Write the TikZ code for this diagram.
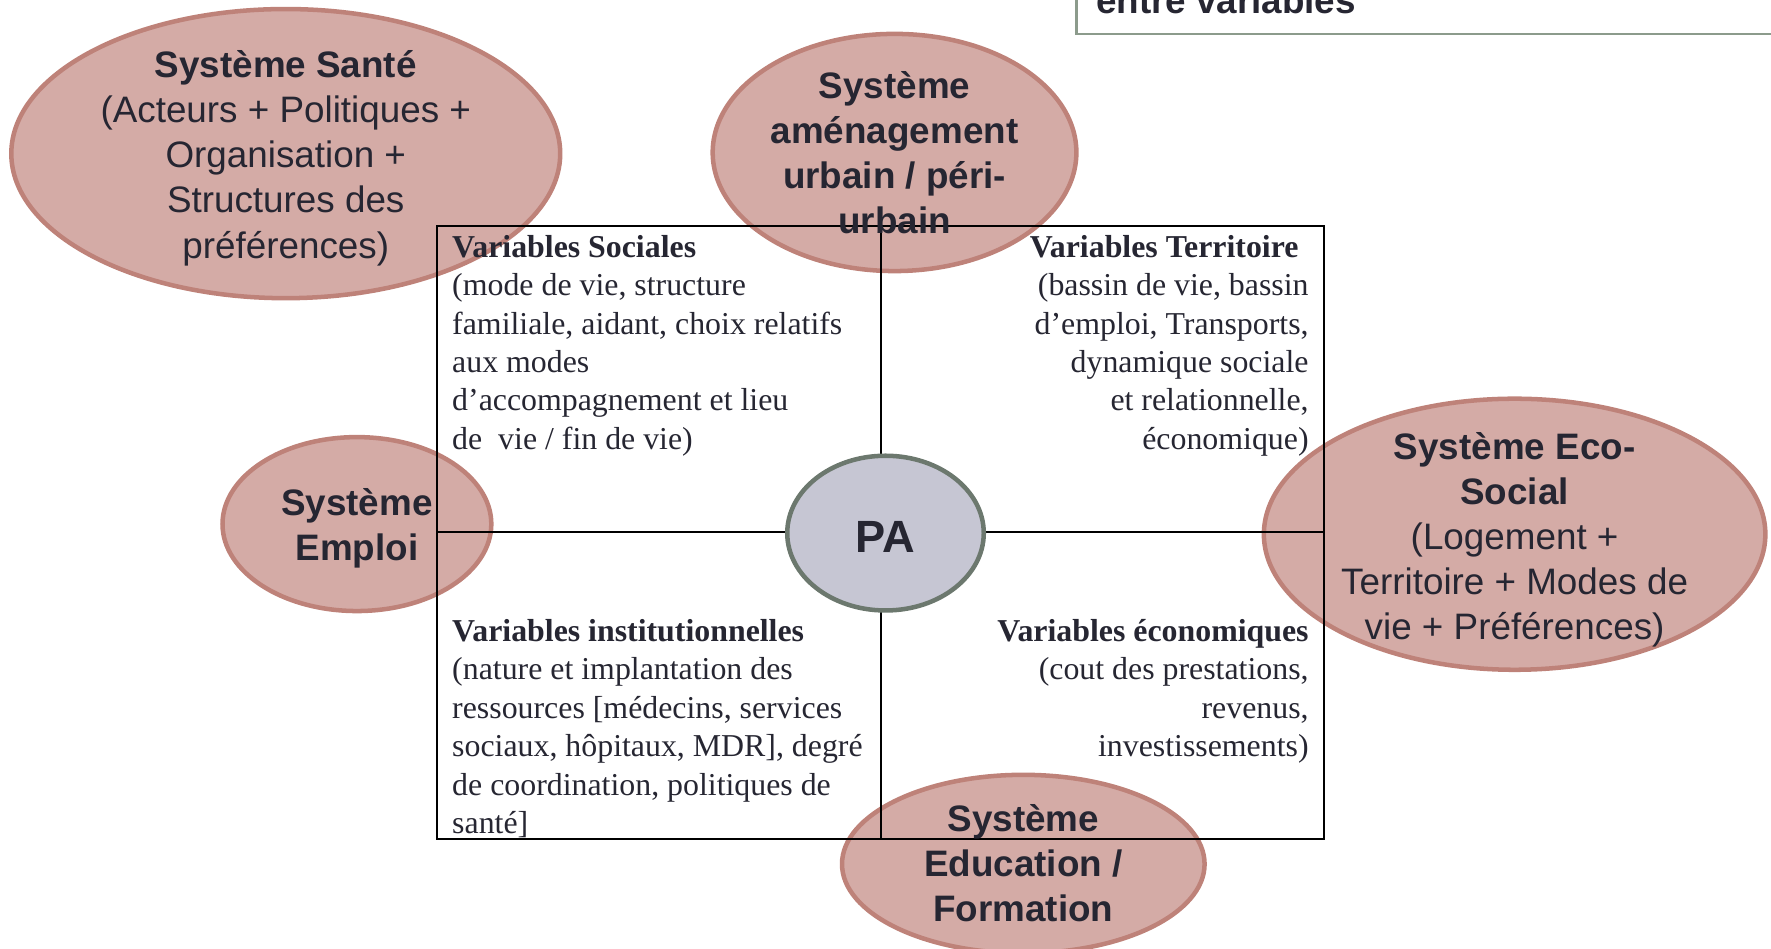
\documentclass[tikz,border=0pt]{standalone}
\usepackage{fontspec}
\setmainfont{Liberation Serif}
\setsansfont{Liberation Sans}
\usetikzlibrary{shapes.geometric}
\definecolor{sysfill}{RGB}{212,171,166}
\definecolor{sysdraw}{RGB}{190,130,121}
\definecolor{pafill}{RGB}{198,198,211}
\definecolor{padraw}{RGB}{108,120,110}
\definecolor{txt}{RGB}{38,38,50}
\definecolor{topbox}{RGB}{140,155,140}
\begin{document}
\begin{tikzpicture}[x=0.5pt,y=-0.5pt,
  sysshape/.style={ellipse, fill=sysfill, draw=sysdraw, line width=2pt, inner sep=0pt},
  systext/.style={align=center, text=txt, font=\sffamily\fontsize{16.3}{20}\selectfont, inner sep=0pt},
  vartext/.style={text=txt, font=\rmfamily\fontsize{14.1}{17}\selectfont, inner sep=0pt},
  boxline/.style={line width=1.1pt, draw=black}
]
\useasboundingbox (0,0) rectangle (1568,840);
\begin{scope}
\clip (0,0) rectangle (1568,840);
% legend box (cut by the top edge)
\node[draw=topbox, line width=1pt, rectangle, minimum width=324pt, minimum height=25.5pt, anchor=south west, inner sep=0pt] (legend) at (952,31) {};
\node[anchor=base west, text=txt, font=\sffamily\bfseries\fontsize{16.3}{20}\selectfont, inner sep=0pt] (legendT) at (970,12) {entre variables};
% system ellipses
\node[sysshape, minimum width=243pt, minimum height=128pt] (sante) at (253,136) {};
\node[sysshape, minimum width=161pt, minimum height=105pt] (amenag) at (792,135) {};
\node[sysshape, minimum width=119pt, minimum height=77pt] (emploi) at (316,464) {};
\node[sysshape, minimum width=222pt, minimum height=120pt] (eco) at (1341,473) {};
\node[sysshape, minimum width=160.5pt, minimum height=79pt] (educ) at (906,765) {};
% quadrant box
\coordinate (tl) at (387,200);
\coordinate (br) at (1172,743);
\coordinate (tm) at (780,200);
\coordinate (bm) at (780,743);
\coordinate (ml) at (387,471);
\coordinate (mr) at (1172,471);
\draw[boxline] (tl) rectangle (br);
\draw[boxline] (tm) -- (bm);
\draw[boxline] (ml) -- (mr);
% PA
\node[ellipse, fill=pafill, draw=padraw, line width=2pt, minimum width=87pt, minimum height=68.5pt, inner sep=0pt, text height=17.3pt, text depth=0pt, text=txt, font=\sffamily\bfseries\fontsize{20}{24}\selectfont] (pa) at (784,472) {PA};
% system texts
\node[systext] (santeT) at (253,140) {\textbf{Système Santé}\\(Acteurs + Politiques +\\Organisation +\\Structures des\\préférences)};
\node[systext, font=\sffamily\bfseries\fontsize{16.3}{20}\selectfont] (amenagT) at (792,135) {Système\\aménagement\\urbain / péri-\\urbain};
\node[systext, font=\sffamily\bfseries\fontsize{16.3}{20}\selectfont] (emploiT) at (316,468) {Système\\Emploi};
\node[systext] (ecoT) at (1341,478) {\textbf{Système Eco-}\\\textbf{Social}\\(Logement +\\Territoire + Modes de\\vie + Préférences)};
\node[systext, font=\sffamily\bfseries\fontsize{16.3}{20}\selectfont] (educT) at (906,764) {Système\\Education /\\Formation};
% quadrant texts
\node[vartext, align=left, anchor=west] (socT) at (400,306) {\textbf{Variables Sociales}\\(mode de vie, structure\\familiale, aidant, choix relatifs\\aux modes\\d’accompagnement et lieu\\de\ \ vie / fin de vie)};
\node[vartext, align=right, anchor=east] (terT) at (1159,306) {\textbf{Variables Territoire}\hspace*{4.5pt}\\(bassin de vie, bassin\\d’emploi, Transports,\\dynamique sociale\\et relationnelle,\\économique)};
\node[vartext, align=left, anchor=west] (instT) at (400,645) {\textbf{Variables institutionnelles}\\(nature et implantation des\\ressources [médecins, services\\sociaux, hôpitaux, MDR], degré\\de coordination, politiques de\\santé]};
\node[vartext, align=right, anchor=east] (ecoV) at (1159,612) {\textbf{Variables économiques}\\(cout des prestations,\\revenus,\\investissements)};
\end{scope}
\end{tikzpicture}
\end{document}
